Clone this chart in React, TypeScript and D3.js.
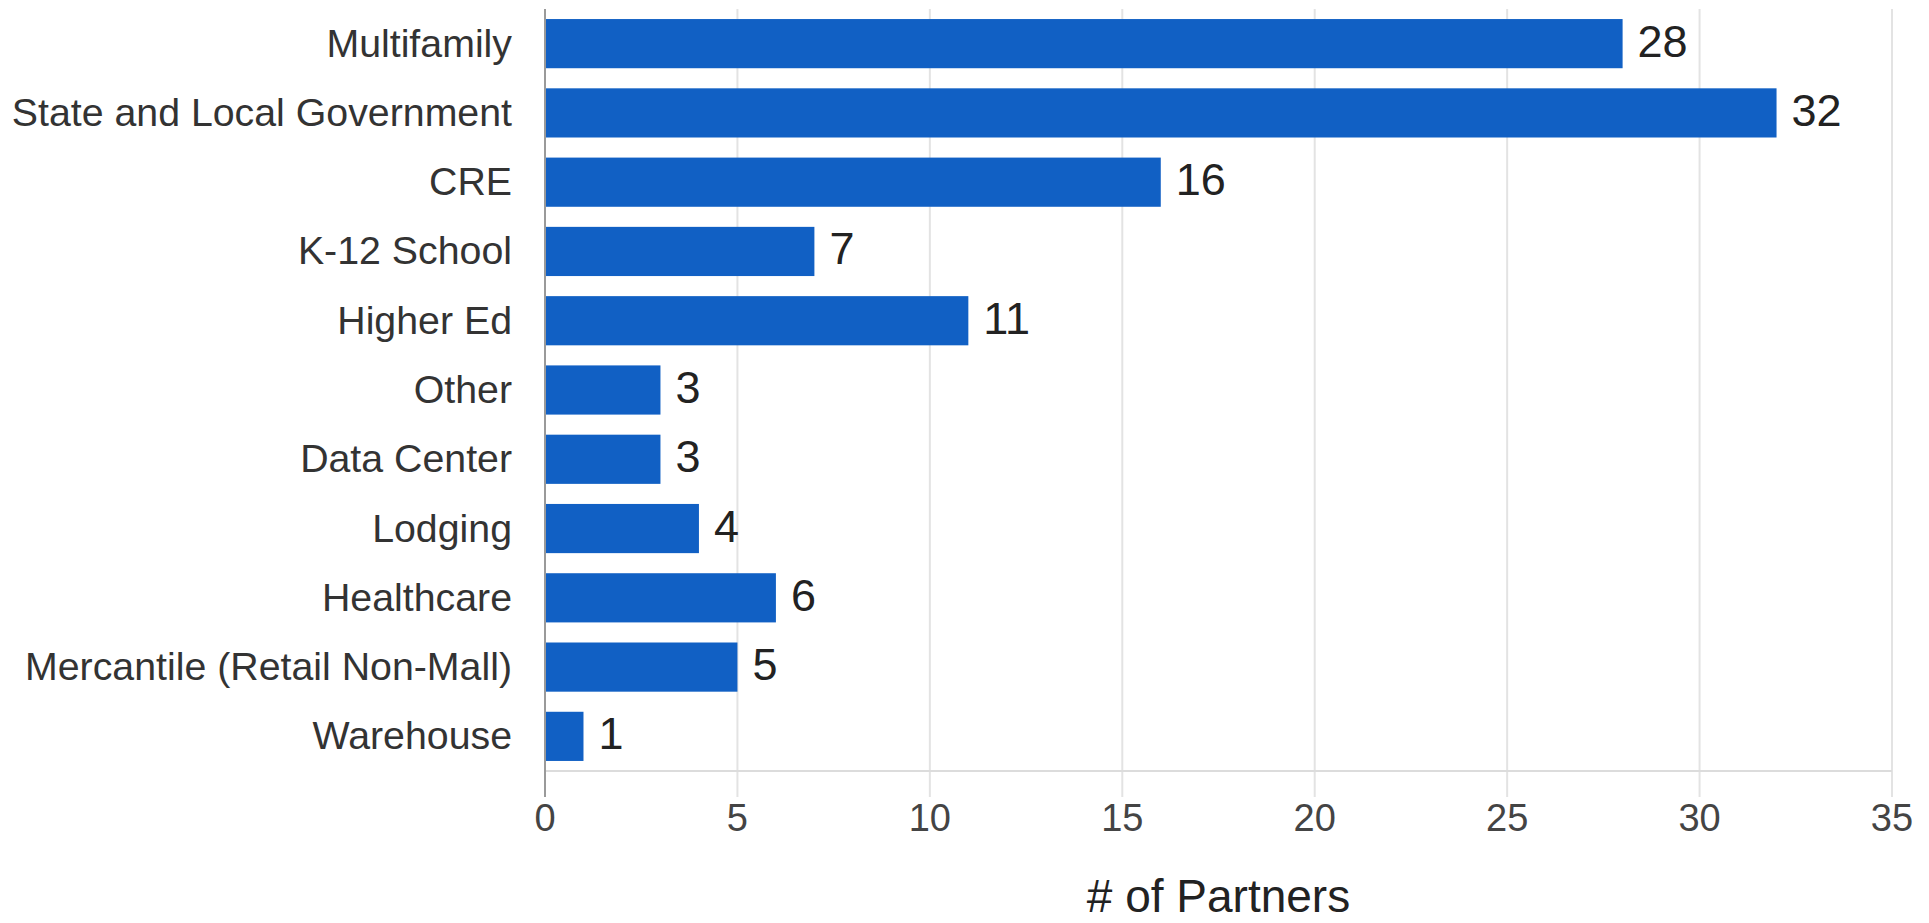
import React from "react";
import * as d3 from "d3";

const categories = [
  "Multifamily",
  "State and Local Government",
  "CRE",
  "K-12 School",
  "Higher Ed",
  "Other",
  "Data Center",
  "Lodging",
  "Healthcare",
  "Mercantile (Retail Non-Mall)",
  "Warehouse",
];
const values = [28, 32, 16, 7, 11, 3, 3, 4, 6, 5, 1];
const xTicks = [0, 5, 10, 15, 20, 25, 30, 35];
const axisTitle = "# of Partners";

const W = 1929;
const H = 923;
const FONT = "'Liberation Sans', Arial, sans-serif";

export default function App() {
  const x = d3.scaleLinear().domain([0, 35]).range([545, 1892]);
  const y = d3
    .scaleBand<string>()
    .domain(categories)
    .range([9, 771])
    .paddingInner(0.29)
    .paddingOuter(0.145);
  const bw = y.bandwidth();
  const baseY = 771;

  return (
    <svg
      width={W}
      height={H}
      style={{ position: "fixed", left: 0, top: 0, background: "#fff" }}
      fontFamily={FONT}
    >
      <rect x={0} y={0} width={W} height={H} fill="#fff" />
      {xTicks.map((t) =>
        t === 0 ? null : (
          <line
            key={"g" + t}
            x1={x(t)}
            x2={x(t)}
            y1={9}
            y2={797}
            stroke="#e3e3e3"
            strokeWidth={2}
          />
        )
      )}
      <line x1={x(0)} x2={x(35)} y1={baseY} y2={baseY} stroke="#dcdcdc" strokeWidth={2} />
      {categories.map((c, i) => (
        <rect
          key={"b" + c}
          x={x(0)}
          y={y(c)!}
          width={x(values[i]) - x(0)}
          height={bw}
          fill="#1160c4"
        />
      ))}
      <line x1={x(0)} x2={x(0)} y1={9} y2={797} stroke="#9a9a9a" strokeWidth={2} />
      {categories.map((c) => (
        <text
          key={"l" + c}
          x={512}
          y={y(c)! + bw / 2 + 13}
          textAnchor="end"
          fontSize={39.3}
          fill="#333"
        >
          {c}
        </text>
      ))}
      {categories.map((c, i) => (
        <text
          key={"v" + c}
          x={x(values[i]) + 15}
          y={y(c)! + bw / 2 + 13}
          textAnchor="start"
          fontSize={45}
          fill="#222"
        >
          {values[i]}
        </text>
      ))}
      {xTicks.map((t) => (
        <text
          key={"t" + t}
          x={x(t)}
          y={831}
          textAnchor="middle"
          fontSize={38}
          fill="#444"
        >
          {t}
        </text>
      ))}
      <text x={(x(0) + x(35)) / 2} y={912} textAnchor="middle" fontSize={46} fill="#222">
        {axisTitle}
      </text>
    </svg>
  );
}
